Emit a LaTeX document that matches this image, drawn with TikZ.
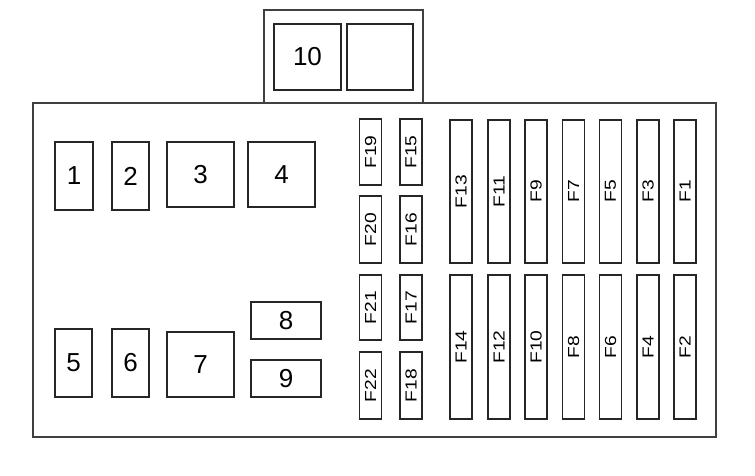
\documentclass[tikz,border=0pt]{standalone}
\usepackage{fontspec}
\setmainfont{Liberation Sans}
\usepackage{tikz}

\begin{document}
\begin{tikzpicture}[x=1pt,y=-1pt,
	housing/.style={draw=black!75,line width=2.6pt},
	relay/.style={draw=black!85,line width=1.2pt,inner sep=0pt,
		font=\fontsize{26}{26}\selectfont},
	fuse/.style={draw=black!85,line width=1.2pt,inner sep=0pt,minimum width=22pt},
	fuselabel/.style={rotate=90,xscale=1.2,inner sep=0pt,font=\fontsize{16}{16}\selectfont}]
				\useasboundingbox (0,0) rectangle (755,475);
				
				\draw[housing] (264,10) rectangle (423,103);
				\draw[housing] (33,103) rectangle (716,437);
				
				\node[relay,minimum width=67pt,minimum height=66pt] (r10) at (307.5,57) {10};
				\node[relay,minimum width=66pt,minimum height=66pt] (r11) at (380,57) {};
				
				\node[relay,minimum width=38pt,minimum height=68pt] (r1) at (74,176) {1};
				\node[relay,minimum width=37pt,minimum height=68pt] (r2) at (130.5,176) {2};
				\node[relay,minimum width=67pt,minimum height=65pt] (r3) at (200.5,174.5) {3};
				\node[relay,minimum width=67pt,minimum height=65pt] (r4) at (281.5,174.5) {4};
				
				\node[relay,minimum width=37pt,minimum height=68pt] (r5) at (73.5,363) {5};
				\node[relay,minimum width=37pt,minimum height=68pt] (r6) at (130.5,363) {6};
				\node[relay,minimum width=67pt,minimum height=65pt] (r7) at (200.5,364.5) {7};
				\node[relay,minimum width=70pt,minimum height=37pt] (r8) at (286,320.5) {8};
				\node[relay,minimum width=70pt,minimum height=37pt] (r9) at (286,378.5) {9};
				
				% small fuses
				\node[fuse,minimum height=66pt] (f19) at (370.5,152) {};
				\node[fuse,minimum height=67pt] (f20) at (370.5,229.5) {};
				\node[fuse,minimum height=65pt] (f21) at (370.5,307.5) {};
				\node[fuse,minimum height=67pt] (f22) at (370.5,385.5) {};
				\node[fuse,minimum height=66pt] (f15) at (411,152) {};
				\node[fuse,minimum height=67pt] (f16) at (411,229.5) {};
				\node[fuse,minimum height=65pt] (f17) at (411,307.5) {};
				\node[fuse,minimum height=67pt] (f18) at (411,385.5) {};
				\node[fuselabel] at (f19) {F19};
				\node[fuselabel] at (f20) {F20};
				\node[fuselabel] at (f21) {F21};
				\node[fuselabel] at (f22) {F22};
				\node[fuselabel] at (f15) {F15};
				\node[fuselabel] at (f16) {F16};
				\node[fuselabel] at (f17) {F17};
				\node[fuselabel] at (f18) {F18};
				
				% long fuses
				\foreach \x/\up/\dn in {461/13/14,499/11/12,536/9/10,573.5/7/8,610.5/5/6,648/3/4,685/1/2}{
					\node[fuse,minimum height=143pt] (f\up) at (\x,191.5) {};
					\node[fuse,minimum height=144pt] (f\dn) at (\x,347) {};
					\node[fuselabel] at (f\up) {F\up};
					\node[fuselabel] at (f\dn) {F\dn};
				}
				\end{tikzpicture}
\end{document}
